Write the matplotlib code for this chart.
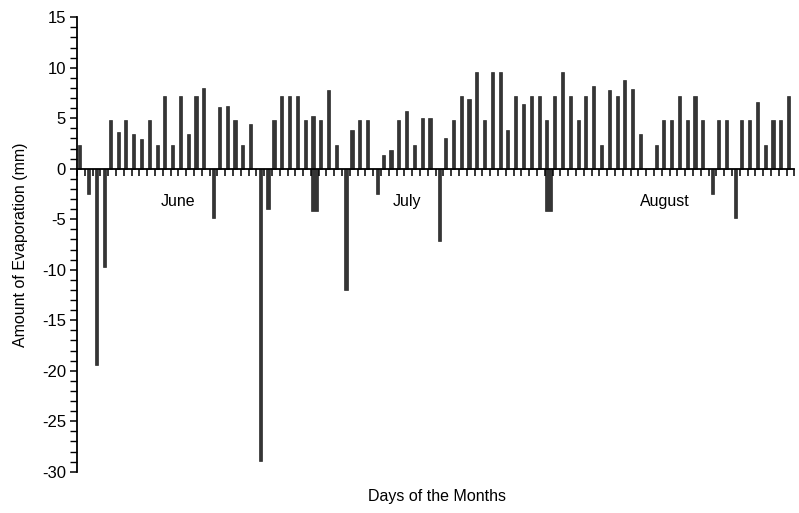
import numpy as np
import matplotlib
matplotlib.use("Agg")
import matplotlib.pyplot as plt

# Daily evaporation values (mm), June 1 .. August 31 (92 days)
evap = [
    2.4, -2.5, -19.4, -9.7, 4.8, 3.6, 4.8, 3.4, 2.9, 4.8,
    2.4, 7.2, 2.4, 7.2, 3.4, 7.2, 8.0, -4.9, 6.1, 6.2,
    4.8, 2.4, 4.4, -28.9, -4.0, 4.8, 7.2, 7.2, 7.2, 4.8,
    5.2, 4.8, 7.8, 2.4, -12.0, 3.8, 4.8, 4.8, -2.5, 1.4,
    1.9, 4.8, 5.7, 2.4, 5.0, 5.0, -7.2, 3.0, 4.8, 7.2,
    6.9, 9.6, 4.8, 9.6, 9.6, 3.8, 7.2, 6.4, 7.2, 7.2,
    4.8, 7.2, 9.6, 7.2, 4.8, 7.2, 8.2, 2.4, 7.8, 7.2,
    8.8, 7.9, 3.4, 0.0, 2.4, 4.8, 4.8, 7.2, 4.8, 7.2,
    4.8, -2.5, 4.8, 4.8, -4.9, 4.8, 4.8, 6.6, 2.4, 4.8,
    4.8, 7.2,
]
# extra negative readings on days that also have a positive reading
extra_days = [30, 60]
extra_vals = [-4.2, -4.2]

months = ["June", "July", "August"]
month_pos = [12.9, 42.3, 75.4]

y_ticks = [15, 10, 5, 0, -5, -10, -15, -20, -25, -30]

plt.rcParams['font.family'] = ['Liberation Sans', 'DejaVu Sans']

fig = plt.figure(figsize=(7.99, 5.13), dpi=100)
ax = fig.add_axes([77 / 799, (513 - 471.7) / 513, 717.3 / 799, 454.4 / 513])

days = np.arange(len(evap))
vals = np.array(evap)
pos_mask = vals >= 0
neg_mask = vals < 0

bar_kw = dict(color='#353535', edgecolor='#111111', linewidth=0.4)
ax.bar(days[pos_mask] + 0.27, vals[pos_mask], width=0.4, **bar_kw)
ax.bar(days[neg_mask] + 0.5, vals[neg_mask], width=0.4, **bar_kw)
ax.bar(np.array(extra_days) + 0.45, extra_vals, width=0.85, **bar_kw)

ax.set_xlim(0, len(evap))
ax.set_ylim(-30, 15)

for s in ['top', 'right']:
    ax.spines[s].set_visible(False)
ax.spines['bottom'].set_position(('data', 0))
ax.spines['bottom'].set_linewidth(1.3)
ax.spines['left'].set_linewidth(1.3)

ax.set_xticks(np.arange(len(evap) + 1))
ax.set_xticklabels([])
ax.tick_params(axis='x', direction='out', length=5, width=1.1, color='black')

ax.set_yticks(y_ticks)
ax.set_yticks(np.arange(-30, 16, 1), minor=True)
ax.set_yticklabels([str(t) for t in y_ticks], fontsize=12)
ax.tick_params(axis='y', which='major', direction='out', length=5, width=1.1, pad=3)
ax.tick_params(axis='y', which='minor', direction='out', length=5, width=1.0)

for m, xp in zip(months, month_pos):
    ax.text(xp, -3.25, m, ha='center', va='center', fontsize=11.5)

ax.set_ylabel("Amount of Evaporation (mm)", fontsize=11.5, labelpad=10)
fig.text(437 / 799, 1 - 497 / 513, "Days of the Months", ha='center', va='center', fontsize=11.5)

fig.savefig("out.png", dpi=100)
